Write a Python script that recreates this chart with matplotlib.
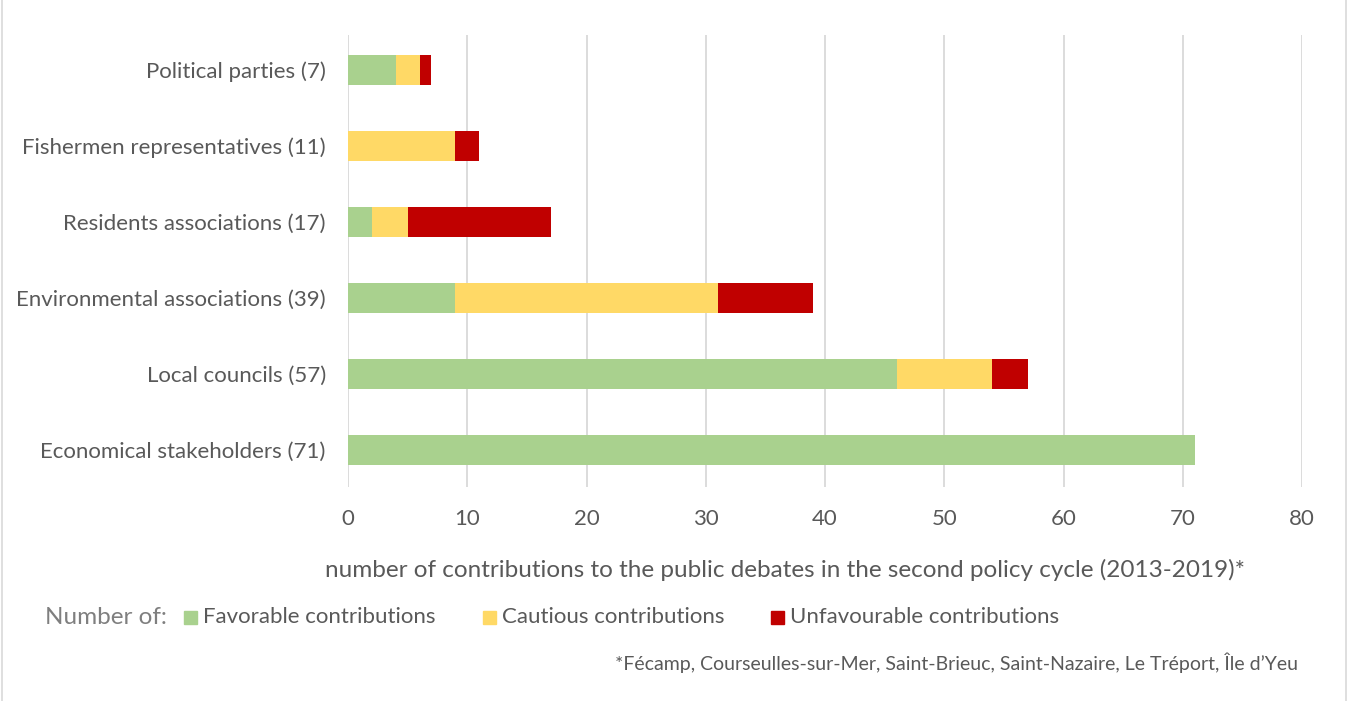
import matplotlib
matplotlib.use("Agg")
import matplotlib.pyplot as plt
from matplotlib.patches import Rectangle

categories = ["Economical stakeholders (71)", "Local councils (57)", "Environmental associations (39)",
              "Residents associations (17)", "Fishermen representatives (11)", "Political parties (7)"]
favorable = [71, 46, 9, 2, 0, 4]
cautious = [0, 8, 22, 3, 9, 2]
unfavourable = [0, 3, 8, 12, 2, 1]
series_names = ["Favorable contributions", "Cautious contributions", "Unfavourable contributions"]
colors = ["#A9D18E", "#FFD966", "#C00000"]
xticks = [0, 10, 20, 30, 40, 50, 60, 70, 80]

plt.rcParams['font.family'] = ['Lato', 'DejaVu Sans']
txt = "#595959"

fig = plt.figure(figsize=(13.49, 7.01), dpi=100)
ax = fig.add_axes([348/1349, 1-487/701, (1302-348)/1349, (487-35)/701])

y = list(range(len(categories)))
left = [0]*len(y)
for vals, c, n in zip([favorable, cautious, unfavourable], colors, series_names):
    ax.barh(y, vals, left=left, height=0.4, color=c, label=n, zorder=3)
    left = [a+b for a, b in zip(left, vals)]

ax.set_xlim(0, 80)
ax.set_ylim(-0.49, 5.46)
ax.set_xticks(xticks)
ax.set_yticks(y)
ax.set_yticklabels(categories, fontsize=16, color=txt)
ax.tick_params(axis='y', length=0, pad=16)
ax.tick_params(axis='x', length=0, pad=16, labelsize=16, labelcolor=txt)
ax.grid(axis='x', color="#D9D9D9", linewidth=1.3, zorder=0)
for s in ax.spines.values():
    s.set_visible(False)

fig.text(785/1349, 1-570/701, "number of contributions to the public debates in the second policy cycle (2013-2019)*",
         ha='center', va='center', fontsize=17.5, color=txt)

# legend
fig.text(45/1349, 1-617/701, "Number of:", ha='left', va='center', fontsize=17.5, color="#7F7F7F")
leg_x = [184, 483, 771]
for lx, c, n in zip(leg_x, colors, series_names):
    fig.patches.append(Rectangle((lx/1349, 1-624/701), 13/1349, 13/701, transform=fig.transFigure,
                                 color=c, figure=fig))
    fig.text((lx+19)/1349, 1-617/701, n, ha='left', va='center', fontsize=16, color=txt)

fig.text(1298/1349, 1-663/701, "*Fécamp, Courseulles-sur-Mer, Saint-Brieuc, Saint-Nazaire, Le Tréport, Île d\u2019Yeu",
         ha='right', va='center', fontsize=14, color=txt)

fig.patches.append(Rectangle((2/1349, -0.01), 1344/1349, 1.02, transform=fig.transFigure,
                             fill=False, edgecolor="#D9D9D9", linewidth=1.2, figure=fig))

fig.savefig("out.png", dpi=100)
